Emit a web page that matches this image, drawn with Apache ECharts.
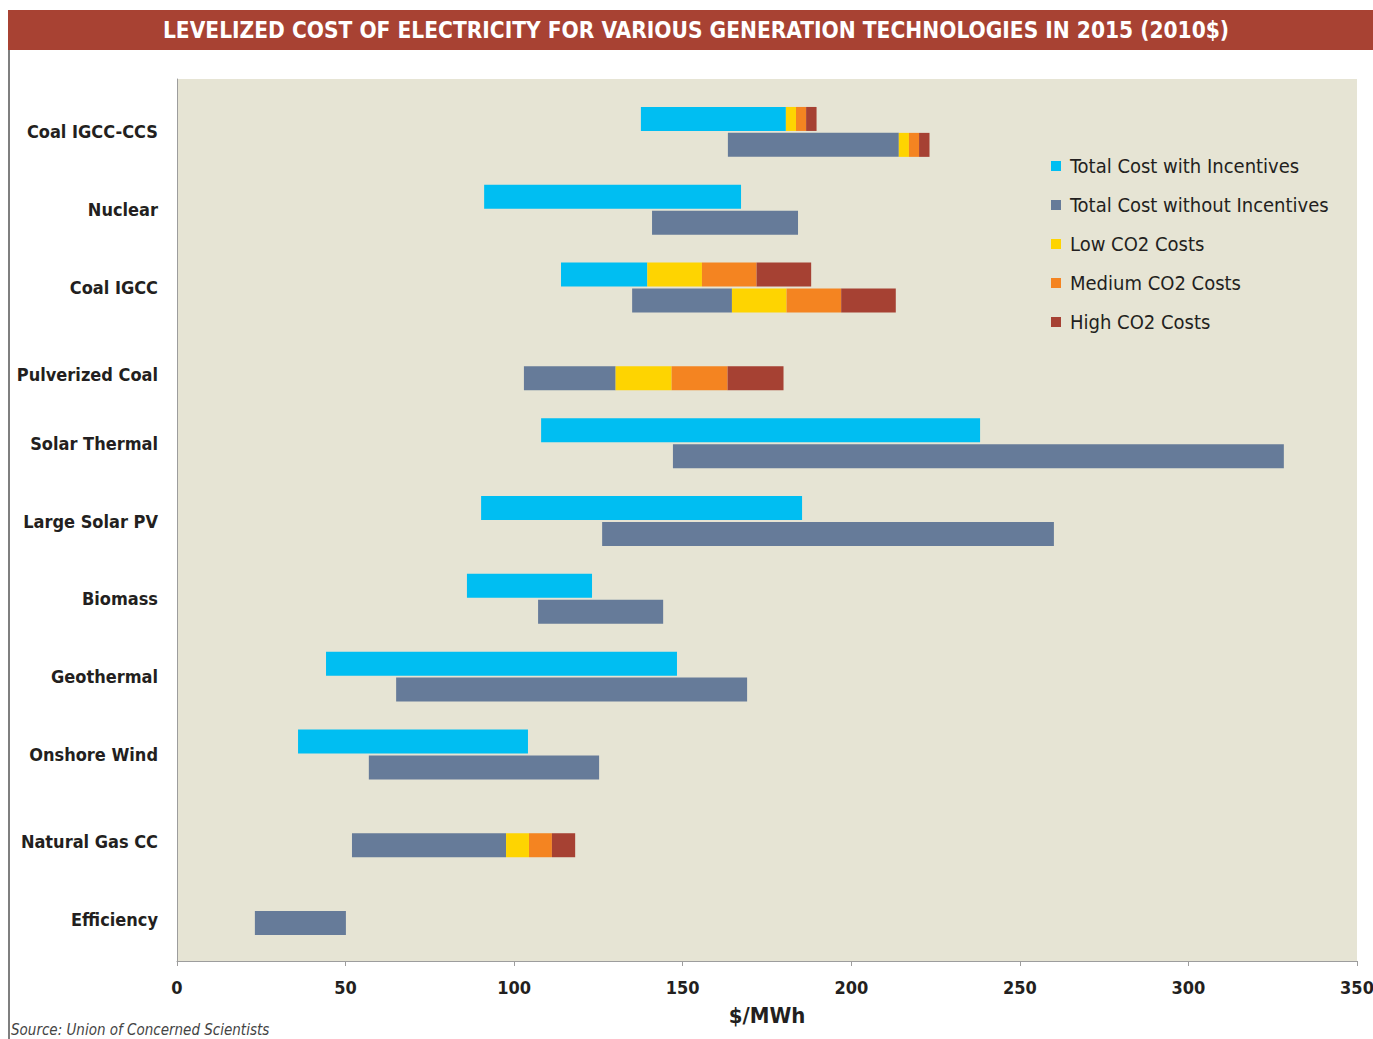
<!DOCTYPE html>
<html><head><meta charset="utf-8">
<script src="https://cdn.jsdelivr.net/npm/echarts@6/dist/echarts.min.js"></script>
<style>html,body{margin:0;padding:0;background:#fff}#c{width:1373px;height:1039px}</style>
</head><body><div id="c"></div>
<script>
// ---- data ($/MWh, 2010$) ----
const categories = ['Coal IGCC-CCS','Nuclear','Coal IGCC','Pulverized Coal','Solar Thermal','Large Solar PV','Biomass','Geothermal','Onshore Wind','Natural Gas CC','Efficiency'];
const withIncentivesMin    = [137.6,  91.1, 113.9, null, 108.0,  90.2,  86.0,  44.2,  35.9, null, null];
const withIncentivesMax    = [180.6, 167.3, 139.5, null, 238.2, 185.4, 123.1, 148.3, 104.1, null, null];
const withoutIncentivesMin = [163.4, 140.9, 135.0, 102.9, 147.1, 126.1, 107.1,  65.0,  56.9, 51.9, 23.1];
const withoutIncentivesMax = [214.1, 184.2, 164.6, 130.1, 328.3, 260.1, 144.2, 169.1, 125.2, 97.6, 50.1];
// cumulative CO2 cost adders
const co2Low    = [3.0, null, 16.2, 16.6, null, null, null, null, null,  6.8, null];
const co2Medium = [6.0, null, 32.4, 33.2, null, null, null, null, null, 13.6, null];
const co2High   = [9.1, null, 48.6, 49.8, null, null, null, null, null, 20.5, null];
const xTickValues = [0, 50, 100, 150, 200, 250, 300, 350];
const legendNames = ['Total Cost with Incentives','Total Cost without Incentives','Low CO2 Costs','Medium CO2 Costs','High CO2 Costs'];

const FONT = '"DejaVu Sans Condensed", "Liberation Sans Narrow", "Open Sans", sans-serif';
const COLORS = { inc:'#00bef2', noinc:'#667b99', low:'#fed401', med:'#f48421', high:'#a64133' };
const DARK = '#231f20';

const chart = echarts.init(document.getElementById('c'), null, {renderer:'svg'});

function rowSeries(stack, minArr, maxArr, mainName, mainColor) {
  const has = i => minArr[i] != null && maxArr[i] != null;
  const base = categories.map((c,i) => has(i) ? minArr[i] : null);
  const main = categories.map((c,i) => has(i) ? +(maxArr[i]-minArr[i]).toFixed(2) : null);
  const low  = categories.map((c,i) => has(i) && co2Low[i] != null ? co2Low[i] : null);
  const med  = categories.map((c,i) => has(i) && co2Medium[i] != null ? +(co2Medium[i]-co2Low[i]).toFixed(2) : null);
  const high = categories.map((c,i) => has(i) && co2High[i] != null ? +(co2High[i]-co2Medium[i]).toFixed(2) : null);
  const common = { type:'bar', stack, xAxisIndex:1, yAxisIndex:1, barWidth:24, barGap:'8%', emphasis:{disabled:true}, animation:false };
  return [
    Object.assign({}, common, { name:'_base_'+stack, data:base, itemStyle:{color:'rgba(0,0,0,0)'}, silent:true, tooltip:{show:false} }),
    Object.assign({}, common, { name:mainName, data:main, itemStyle:{color:mainColor} }),
    Object.assign({}, common, { name:legendNames[2], data:low, itemStyle:{color:COLORS.low} }),
    Object.assign({}, common, { name:legendNames[3], data:med, itemStyle:{color:COLORS.med} }),
    Object.assign({}, common, { name:legendNames[4], data:high, itemStyle:{color:COLORS.high} })
  ];
}

const series = [].concat(
  rowSeries('inc', withIncentivesMin, withIncentivesMax, legendNames[0], COLORS.inc),
  rowSeries('noinc', withoutIncentivesMin, withoutIncentivesMax, legendNames[1], COLORS.noinc)
);

const option = {
  animation:false,
  textStyle:{fontFamily:FONT},
  grid:[
    {left:177, width:1180, top:79, height:882, show:true, backgroundColor:'#e6e4d4', borderWidth:0, outerBoundsMode:'none', containLabel:false},
    {left:177, width:1180, top:93, height:856, outerBoundsMode:'none', containLabel:false}
  ],
  xAxis:[
    { gridIndex:0, type:'value', min:0, max:350, interval:50,
      axisLine:{show:true, lineStyle:{color:'#9d9d9d', width:1}},
      axisTick:{show:true, length:5, lineStyle:{color:'#9d9d9d'}},
      splitLine:{show:false},
      axisLabel:{fontFamily:FONT, fontWeight:'bold', fontSize:18, color:DARK, margin:17,
        formatter:(v)=> xTickValues.includes(v) ? String(v) : ''},
      name:'$/MWh', nameLocation:'middle', nameGap:43,
      nameTextStyle:{fontFamily:FONT, fontWeight:'bold', fontSize:22, color:DARK}
    },
    { gridIndex:1, type:'value', min:0, max:350, show:false }
  ],
  yAxis:[
    { gridIndex:0, type:'value', min:0, max:1,
      axisLine:{show:true, lineStyle:{color:'#9d9d9d', width:1}},
      axisTick:{show:false}, axisLabel:{show:false}, splitLine:{show:false} },
    { gridIndex:1, type:'category', data:categories, inverse:true,
      axisLine:{show:false}, axisTick:{show:false}, splitLine:{show:false},
      axisLabel:{
        margin:19, fontFamily:FONT, fontWeight:'bold', fontSize:18, color:DARK,
        formatter:(v, i)=> (withIncentivesMin[i] == null ? '{s|' + v + '}' : '{d|' + v + '}'),
        rich:{
          d:{fontFamily:FONT, fontWeight:'bold', fontSize:18, color:DARK},
          s:{fontFamily:FONT, fontWeight:'bold', fontSize:18, color:DARK, padding:[18,0,0,0]}
        }
      }
    }
  ],
  legend:{
    data:legendNames, orient:'vertical', left:1046, top:149,
    icon:'rect', itemWidth:10, itemHeight:10, itemGap:15,
    selectedMode:false,
    textStyle:{fontFamily:FONT, fontSize:20, lineHeight:24, color:DARK, padding:[0,0,0,4]}
  },
  graphic:[
    {type:'rect', left:8, top:10, shape:{width:1365, height:40}, style:{fill:'#a84233'}, silent:true},
    {type:'text', x:696, y:30, style:{text:'LEVELIZED COST OF ELECTRICITY FOR VARIOUS GENERATION TECHNOLOGIES IN 2015 (2010$)',
      fill:'#ffffff', font:'bold 22.5px ' + FONT, textAlign:'center', textVerticalAlign:'middle'}, silent:true},
    {type:'line', shape:{x1:9, y1:50, x2:9, y2:1039}, style:{stroke:'#555555', lineWidth:1.5}, silent:true},
    {type:'text', x:11, y:1030, style:{text:'Source: Union of Concerned Scientists', fill:'#444444',
      font:'italic 15px ' + FONT, textAlign:'left', textVerticalAlign:'middle'}, silent:true}
  ],
  series
};
chart.setOption(option);
</script>
</body></html>
